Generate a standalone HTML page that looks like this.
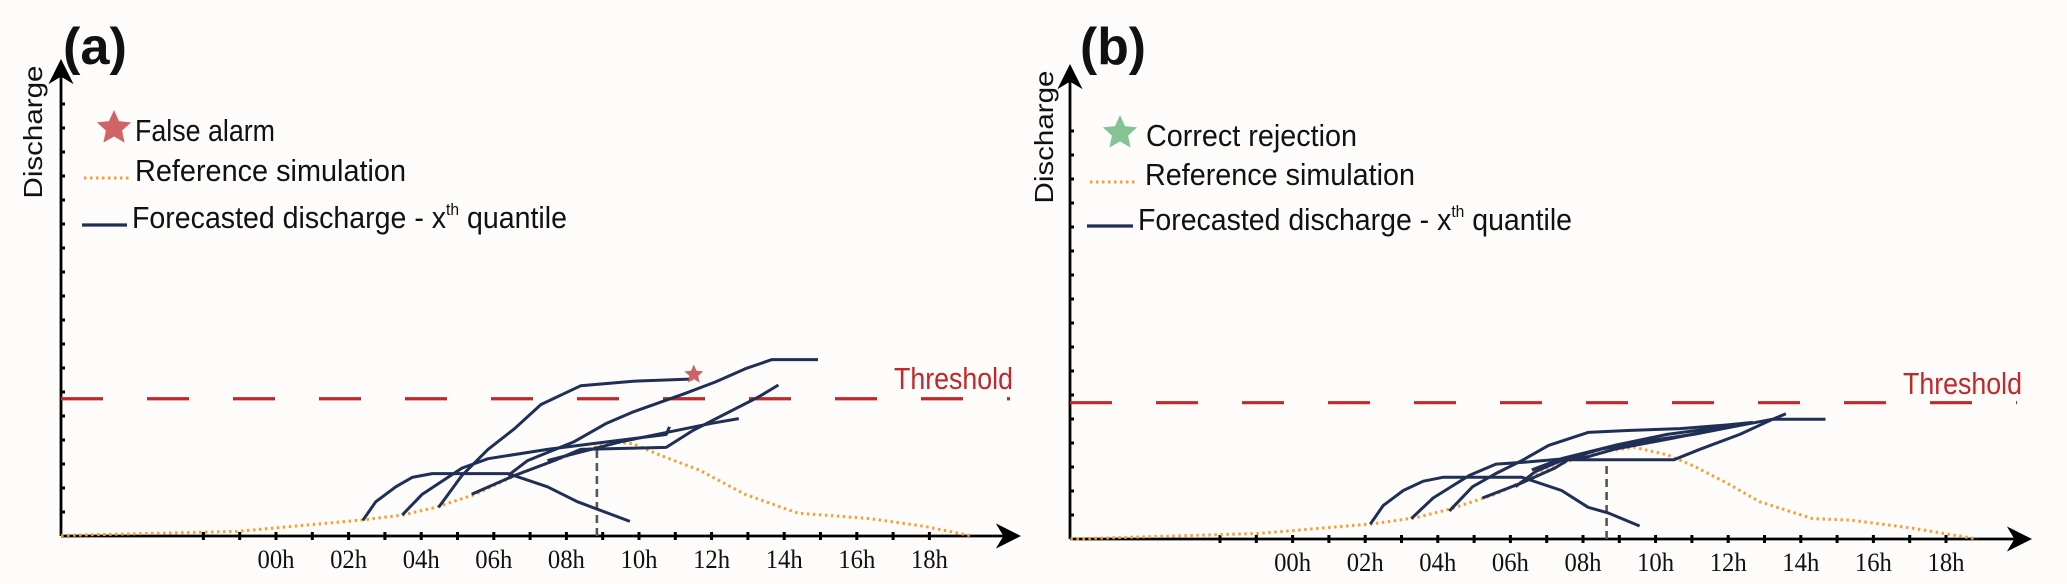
<!DOCTYPE html>
<html><head><meta charset="utf-8">
<style>
html,body{margin:0;padding:0;background:#fdfcfb;}
svg{display:block;}
</style></head>
<body>
<svg id="fig" width="2067" height="584" viewBox="0 0 2067 584" xmlns="http://www.w3.org/2000/svg">
<rect x="0" y="0" width="2067" height="584" fill="#fdfcfb"/>
<defs>
<marker id="arr" viewBox="0 0 10 10" refX="8" refY="5" markerWidth="9" markerHeight="9" orient="auto"><path d="M0,0 L10,5 L0,10 L3,5 Z" fill="#000"/></marker>
</defs>
</svg>
<script>
// ---- shared axis data ----
const tickHours = [-2,-1,0,1,2,3,4,5,6,7,8,9,10,11,12,13,14,15,16,17,18];
const tickLabels = ["00h","02h","04h","06h","08h","10h","12h","14h","16h","18h"];
const labelHours = [0,2,4,6,8,10,12,14,16,18];

// ---- Panel (a) data: hours, discharge units ----
const refA_h = [-5.92,-1.06,2.39,3.48,4.39,5.48,6.57,7.66,8.39,9.30,9.84,10.57,11.66,12.93,14.38,15.11,16.38,17.84,19.11];
const refA_v = [0.02,0.19,0.67,0.87,1.19,1.73,2.51,3.14,3.53,3.92,3.84,3.37,2.75,1.73,0.95,0.87,0.72,0.41,0.02];

const fcA1_h = [2.39,2.75,3.30,3.75,4.30,6.39,7.48,8.30,9.75];
const fcA1_v = [0.65,1.43,2.05,2.44,2.60,2.60,2.05,1.43,0.61];
const fcA2_h = [3.48,4.03,5.12,5.84,7.48,9.11,10.75,10.84];
const fcA2_v = [0.88,1.74,2.83,3.22,3.61,3.92,4.23,4.55];
const fcA3_h = [4.48,5.12,5.84,6.57,7.30,8.39,9.84,11.48];
const fcA3_v = [1.19,2.52,3.61,4.47,5.48,6.26,6.45,6.54];
const fcA4_h = [5.39,6.57,7.66,8.39,10.75,11.48,13.29,13.84];
const fcA4_v = [1.74,2.52,3.14,3.61,3.69,4.39,5.79,6.29];
const fcA5_h = [6.39,6.93,8.20,9.11,9.84,11.29,12.11,12.93,13.66,14.93];
const fcA5_v = [2.52,3.14,3.92,4.70,5.17,5.95,6.42,6.97,7.35,7.35];
const fcA6_h = [7.48,9.48,12.02,12.75];
const fcA6_v = [3.14,3.92,4.70,4.89];
const thresholdA = 5.72;
const markerA = [11.51, 6.73];
const issueA = [8.84, 3.69];

// ---- Panel (b) data ----
const refB_h = [-6.12,-0.95,2.14,3.41,4.32,5.60,6.68,7.77,8.68,9.41,10.32,11.05,11.95,12.86,14.32,15.41,17.04,18.86];
const refB_v = [0,0.23,0.62,0.89,1.24,1.87,2.65,3.35,3.66,3.82,3.51,3.04,2.34,1.56,0.85,0.78,0.46,0];

const fcB1_h = [2.14,2.50,3.05,3.60,4.14,6.32,7.41,8.14,8.68,9.56];
const fcB1_v = [0.62,1.40,2.02,2.41,2.57,2.57,2.02,1.32,1.09,0.54];
const fcB2_h = [3.27,3.87,4.87,5.60,6.32,8.14,8.87,10.50,12.50];
const fcB2_v = [0.85,1.71,2.65,3.12,3.19,3.43,3.74,4.21,4.83];
const fcB3_h = [4.32,4.96,5.60,6.32,7.05,8.14,9.23,10.68,11.95,12.68];
const fcB3_v = [1.17,2.18,2.73,3.27,3.90,4.44,4.52,4.60,4.75,4.86];
const fcB4_h = [5.23,6.32,7.23,7.59,10.50,11.23,12.32,13.23,13.59];
const fcB4_v = [1.71,2.34,2.96,3.30,3.30,3.74,4.36,4.99,5.22];
const fcB5_h = [6.14,6.68,7.41,8.50,9.59,11.05,12.14,13.23,14.68];
const fcB5_v = [2.18,2.80,3.27,3.74,4.05,4.36,4.68,4.99,4.99];
const fcB6_h = [6.59,7.41,8.87,10.32,12.50];
const fcB6_v = [2.88,3.35,3.90,4.36,4.80];
const thresholdB = 5.68;
const issueB = [8.65, 3.35];

const NS = "http://www.w3.org/2000/svg";
const svg = document.getElementById('fig');
function mk(tag, attrs, parent){
  const e = document.createElementNS(NS, tag);
  for (const k in attrs) e.setAttribute(k, attrs[k]);
  (parent||svg).appendChild(e);
  return e;
}
function starPath(cx, cy, R, r){
  let d = "";
  for (let i=0;i<10;i++){
    const a = -Math.PI/2 + i*Math.PI/5;
    const rad = i%2===0 ? R : r;
    d += (i===0?"M":"L") + (cx+rad*Math.cos(a)).toFixed(1) + "," + (cy+rad*Math.sin(a)).toFixed(1);
  }
  return d + "Z";
}

function drawPanel(p){
  const g = mk('g', {});
  
  
  const X = h => p.x0 + h*p.px;
  const Y = v => p.yAxis - v*p.py;

  const lab = mk('text', {x:p.labX, y:p.labY, 'font-family':'Liberation Sans, sans-serif', 'font-weight':'bold', 'font-size':'52', fill:'#111', textLength:p.labW, lengthAdjust:'spacingAndGlyphs'}, g);
  lab.textContent = p.label;
  
  

  const ya = mk('line', {x1:p.axX, y1:p.yAxis, x2:p.axX, y2:p.yTop, stroke:'#000', 'stroke-width':2.8, 'marker-end':'url(#arr)'}, g);
  
  
  for (let k=1;k<=p.nYTicks;k++){
    const t = mk('line', {x1:p.axX-1, x2:p.axX+4, y1:p.yAxis-24*k, y2:p.yAxis-24*k, stroke:'#000', 'stroke-width':3}, g);
    
    
  }
  const yt = mk('text', {x:0, y:0, transform:`translate(${p.ytX},${p.ytY}) rotate(-90)`, 'text-anchor':'middle', 'font-family':'Liberation Sans, sans-serif', 'font-size':'26', fill:'#111', textLength:133, lengthAdjust:'spacingAndGlyphs'}, g);
  yt.textContent = 'Discharge';
  
  

  const xa = mk('line', {x1:p.axX, y1:p.yAxis, x2:p.xEnd, y2:p.yAxis, stroke:'#000', 'stroke-width':2.8, 'marker-end':'url(#arr)'}, g);
  
  
  tickHours.forEach(h => {
    const t = mk('line', {x1:X(h), x2:X(h), y1:p.yAxis-4, y2:p.yAxis+4, stroke:'#000', 'stroke-width':3}, g);
    
    
  });
  labelHours.forEach((h,i) => {
    const t = mk('text', {x:X(h), y:p.yAxis+32, 'text-anchor':'middle', 'font-family':'Liberation Serif, serif', 'font-size':'26', fill:'#111', textLength:37, lengthAdjust:'spacingAndGlyphs'}, g);
    t.textContent = tickLabels[i];
    
    
  });

  const th = mk('line', {x1:p.axX, x2:p.thEnd, y1:Y(p.threshold), y2:Y(p.threshold), stroke:'#c0282a', 'stroke-width':3.2, 'stroke-dasharray':'42,44'}, g);
  
  
  const tt = mk('text', {x:p.thTextX, y:p.thTextY, 'font-family':'Liberation Sans, sans-serif', 'font-size':'31', fill:'#c0282a', textLength:119, lengthAdjust:'spacingAndGlyphs'}, g);
  tt.textContent = 'Threshold';
  
  

  const rp = mk('polyline', {points:p.refH.map((h,i)=>X(h).toFixed(1)+','+Y(p.refV[i]).toFixed(1)).join(' '), fill:'none', stroke:'#f5a030', 'stroke-width':3, 'stroke-dasharray':'2.5,3.5'}, g);
  
  

  const iv = mk('line', {x1:X(p.issue[0]), x2:X(p.issue[0]), y1:p.yAxis, y2:Y(p.issue[1]), stroke:'#555', 'stroke-width':2.6, 'stroke-dasharray':'8,5'}, g);
  
  

  p.fc.forEach(f => {
    const l = mk('polyline', {points:f[0].map((h,i)=>X(h).toFixed(1)+','+Y(f[1][i]).toFixed(1)).join(' '), fill:'none', stroke:'#1f2f55', 'stroke-width':3, 'stroke-linejoin':'round'}, g);
    
    
  });
  if (p.marker){
    const s = mk('path', {d:starPath(X(p.marker[0]), Y(p.marker[1]), 10, 4.6), fill:'#cf6262'}, g);
    
    
  }

  const lg = mk('g', {}, g);
  
  
  const st = mk('path', {d:starPath(p.lg.sx, p.lg.sy, 18, 8.5), fill:p.starColor}, lg);
  
  
  const t1 = mk('text', {x:p.lg.t1x, y:p.lg.t1y, 'font-family':'Liberation Sans, sans-serif', 'font-size':'31', fill:'#111', textLength:p.lg.t1w, lengthAdjust:'spacingAndGlyphs'}, lg);
  t1.textContent = p.outcome;
  
  
  const ol = mk('line', {x1:p.lg.o1, x2:p.lg.o2, y1:p.lg.oy, y2:p.lg.oy, stroke:'#f5a030', 'stroke-width':3, 'stroke-dasharray':'2.5,3.5'}, lg);
  
  
  const t2 = mk('text', {x:p.lg.t2x, y:p.lg.t2y, 'font-family':'Liberation Sans, sans-serif', 'font-size':'31', fill:'#111', textLength:p.lg.t2w, lengthAdjust:'spacingAndGlyphs'}, lg);
  t2.textContent = 'Reference simulation';
  
  
  const nl = mk('line', {x1:p.lg.n1, x2:p.lg.n2, y1:p.lg.ny, y2:p.lg.ny, stroke:'#1f2f55', 'stroke-width':3.2}, lg);
  
  
  const t3 = mk('text', {x:p.lg.t3x, y:p.lg.t3y, 'font-family':'Liberation Sans, sans-serif', 'font-size':'31', fill:'#111', textLength:p.lg.t3w, lengthAdjust:'spacingAndGlyphs'}, lg);
  t3.innerHTML = 'Forecasted discharge - x<tspan font-size="17" dy="-13">th</tspan><tspan dy="13"> quantile</tspan>';
  
  
}

drawPanel({
  name:'panel-a', label:'(a)', labX:63, labY:64, labW:64,
  x0:276, px:36.3, yAxis:536, py:24, axX:61, yTop:64, xEnd:1016, nYTicks:18,
  ytX:42, ytY:132, threshold:thresholdA, thEnd:1010, thTextX:894, thTextY:389,
  refH:refA_h, refV:refA_v, issue:issueA,
  fc:[[fcA1_h,fcA1_v],[fcA2_h,fcA2_v],[fcA3_h,fcA3_v],[fcA4_h,fcA4_v],[fcA5_h,fcA5_v],[fcA6_h,fcA6_v]],
  marker:markerA, starColor:'#d06464', outcome:'False alarm',
  lg:{sx:114,sy:128,t1x:135,t1y:141,t1w:140,o1:84,o2:131,oy:178,t2x:135,t2y:181,t2w:271,n1:82,n2:127,ny:225,t3x:132,t3y:228,t3w:435}
});
drawPanel({
  name:'panel-b', label:'(b)', labX:1080, labY:64, labW:66,
  x0:1292.6, px:36.3, yAxis:539, py:24, axX:1070, yTop:69, xEnd:2027, nYTicks:17,
  ytX:1053, ytY:137, threshold:thresholdB, thEnd:2017, thTextX:1903, thTextY:394,
  refH:refB_h, refV:refB_v, issue:issueB,
  fc:[[fcB1_h,fcB1_v],[fcB2_h,fcB2_v],[fcB3_h,fcB3_v],[fcB4_h,fcB4_v],[fcB5_h,fcB5_v],[fcB6_h,fcB6_v]],
  marker:null, starColor:'#86c393', outcome:'Correct rejection',
  lg:{sx:1120,sy:133,t1x:1146,t1y:146,t1w:211,o1:1090,o2:1138,oy:182,t2x:1145,t2y:185,t2w:270,n1:1087,n2:1133,ny:226,t3x:1138,t3y:230,t3w:434}
});
</script>
</body></html>
